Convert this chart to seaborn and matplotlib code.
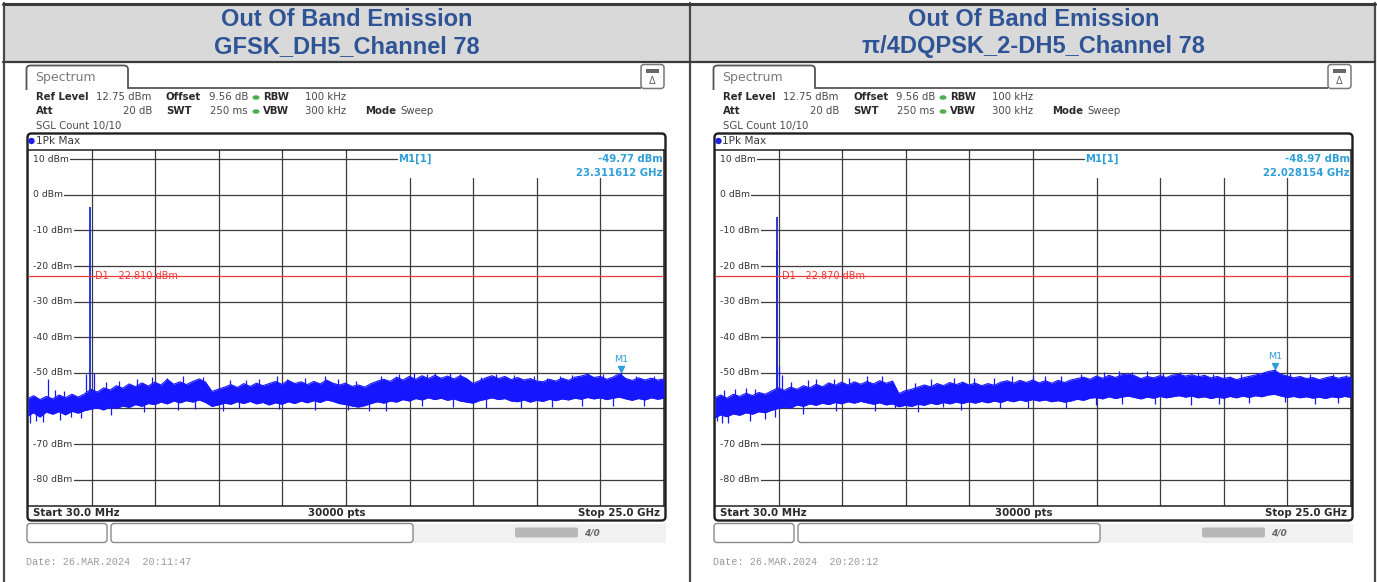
import matplotlib
matplotlib.use("Agg")
import matplotlib.pyplot as plt
import seaborn as sns
from matplotlib.patches import FancyBboxPatch, Rectangle, Ellipse, Circle, PathPatch
from matplotlib.path import Path

# ---------------- data ----------------
TITLE_TOP = "Out Of Band Emission"
TITLES = ["GFSK_DH5_Channel 78", "π/4DQPSK_2-DH5_Channel 78"]
DATES = ["Date: 26.MAR.2024  20:11:47", "Date: 26.MAR.2024  20:20:12"]
Y_TICKS = [10, 0, -10, -20, -30, -40, -50, -60, -70, -80]
REF_LEVEL = 12.75
START_GHZ = 0.03
STOP_GHZ = 25.0
D1_LEVEL = [-22.810, -22.870]
M1_FREQ = [23.311612, 22.028154]
M1_LEVEL = [-49.77, -48.97]

FREQ = [0.03, 0.25, 0.5, 0.75, 1.0, 1.25, 1.5, 1.75, 2.0, 2.25,
        2.5, 2.75, 3.0, 3.25, 3.5, 3.75, 4.0, 4.25, 4.5, 4.75,
        5.0, 5.25, 5.5, 5.75, 6.0, 6.25, 6.5, 6.75, 7.0, 7.25,
        7.5, 7.75, 8.0, 8.25, 8.5, 8.75, 9.0, 9.25, 9.5, 9.75,
        10.0, 10.25, 10.5, 10.75, 11.0, 11.25, 11.5, 11.75, 12.0, 12.25,
        12.5, 12.75, 13.0, 13.25, 13.5, 13.75, 14.0, 14.25, 14.5, 14.75,
        15.0, 15.25, 15.5, 15.75, 16.0, 16.25, 16.5, 16.75, 17.0, 17.25,
        17.5, 17.75, 18.0, 18.25, 18.5, 18.75, 19.0, 19.25, 19.5, 19.75,
        20.0, 20.25, 20.5, 20.75, 21.0, 21.25, 21.5, 21.75, 22.0, 22.25,
        22.5, 22.75, 23.0, 23.25, 23.5, 23.75, 24.0, 24.25, 24.5, 24.75, 25.0]

GFSK_UPPER = [-57.2, -56.4, -57.5, -56.6, -57.3, -56.2, -57.0, -56.0, -56.8, -55.9,
              -54.6, -55.4, -54.2, -54.8, -53.6, -54.3, -53.1, -53.9, -52.8, -53.7,
              -52.6, -53.4, -51.8, -53.2, -52.5, -53.3, -52.4, -51.7, -52.6, -55.2,
              -54.6, -54.0, -53.3, -54.1, -53.0, -53.8, -52.9, -53.6, -53.0, -52.4,
              -53.2, -52.1, -53.0, -52.5, -53.3, -52.4, -53.1, -52.0, -52.9, -53.4,
              -52.9, -53.8, -53.4, -54.0, -53.0, -52.3, -51.8, -52.4, -51.2, -52.0,
              -51.0, -51.8, -50.8, -51.6, -50.7, -51.5, -50.9, -51.7, -50.8, -51.6,
              -53.0, -52.2, -51.4, -50.8, -51.6, -51.0, -51.9, -51.3, -52.0, -51.6,
              -52.3, -52.5, -51.8, -52.3, -51.5, -52.1, -51.2, -50.9, -50.4, -51.3,
              -51.0, -51.8, -51.2, -50.2, -51.6, -52.1, -51.4, -52.0, -51.5, -52.0, -51.7]
GFSK_LOWER = [-62.0, -61.2, -62.4, -61.0, -61.6, -60.9, -61.8, -60.8, -61.3, -60.6,
              -60.2, -59.8, -60.4, -59.6, -60.0, -59.3, -59.7, -58.9, -59.4, -58.6,
              -58.9, -58.2, -58.7, -57.9, -58.4, -57.8, -58.2, -57.6, -58.3, -59.4,
              -59.0, -58.5, -58.8, -58.1, -58.6, -58.0, -58.7, -58.3, -59.0, -58.4,
              -58.8, -58.1, -58.6, -57.9, -58.4, -57.8, -58.3, -57.6, -58.0, -58.6,
              -58.9, -59.3, -59.6, -59.2, -58.6, -58.1, -58.5, -57.9, -58.2, -57.5,
              -57.9, -57.2, -57.6, -57.0, -57.5, -57.1, -57.7, -57.3, -57.9, -58.2,
              -58.5, -57.8, -57.4, -57.0, -57.5, -57.2, -57.9, -58.1, -57.6, -58.2,
              -57.7, -58.0, -57.4, -57.8, -57.3, -57.6, -57.1, -57.4, -56.9, -57.3,
              -57.0, -57.5, -57.1, -56.8, -57.3, -57.7, -57.2, -57.6, -57.0, -57.4, -57.1]

DQPSK_UPPER = [-57.0, -56.2, -57.1, -56.0, -56.6, -55.7, -56.4, -55.5, -56.0, -55.1,
               -54.2, -54.9, -54.0, -54.6, -53.6, -54.2, -53.2, -53.9, -52.8, -53.5,
               -52.6, -53.4, -52.5, -53.2, -52.4, -53.1, -52.2, -52.9, -52.3, -55.8,
               -55.0, -54.6, -54.0, -53.4, -53.9, -53.0, -53.6, -52.7, -53.3, -52.6,
               -53.4, -52.9, -53.6, -53.0, -53.5, -52.6, -52.2, -52.9, -52.1, -52.7,
               -52.0, -52.8, -52.2, -52.9, -52.1, -52.7, -52.0, -51.6, -51.2, -51.8,
               -50.9, -51.5, -50.7, -51.3, -50.5, -50.3, -50.8, -51.6, -51.0, -51.4,
               -50.8, -51.3, -50.6, -50.4, -50.9, -50.5, -51.1, -50.7, -51.4, -51.0,
               -51.6, -51.2, -51.9, -51.4, -51.0, -50.6, -50.2, -49.6, -49.3, -50.4,
               -50.9, -51.4, -51.0, -51.6, -51.3, -51.9, -51.4, -51.0, -51.5, -51.1, -51.3]
DQPSK_LOWER = [-62.6, -61.8, -62.3, -61.5, -61.9, -61.2, -61.6, -60.9, -61.2, -60.5,
               -60.0, -59.6, -59.9, -59.0, -59.4, -58.7, -59.1, -58.5, -58.9, -58.3,
               -58.7, -58.1, -58.5, -58.0, -58.4, -58.8, -58.4, -59.0, -58.7, -59.5,
               -59.1, -59.4, -58.8, -59.1, -58.5, -58.9, -58.3, -58.7, -58.2, -58.6,
               -58.1, -58.5, -58.0, -58.4, -57.9, -58.3, -57.7, -58.1, -57.6, -58.0,
               -57.5, -57.9, -57.6, -58.1, -57.8, -58.2, -57.9, -57.4, -57.7, -57.1,
               -56.9, -57.3, -56.7, -57.2, -56.8, -56.5, -56.9, -57.3, -56.8, -57.1,
               -56.6, -57.0, -56.7, -56.4, -56.8, -56.5, -57.0, -56.7, -57.2, -56.8,
               -57.1, -56.6, -57.0, -56.5, -56.9, -56.4, -56.7, -56.2, -56.0, -56.5,
               -56.9, -56.6, -57.0, -56.7, -57.1, -56.8, -57.2, -56.7, -57.0, -56.6, -56.9]

# noise spikes (freq GHz, bottom dBm, top dBm)
GFSK_SPK_F = [0.82, 2.30, 2.62, 3.6, 5.5, 6.9, 8.6, 10.2, 12.2, 14.6, 16.0, 17.0,
              18.4, 20.9, 22.0, 23.31, 0.10, 0.36, 1.7, 7.7, 11.3, 13.4,
              1.1, 1.45, 3.1, 4.3, 4.9, 6.1, 7.95, 9.1, 9.8, 10.9, 11.7, 12.9,
              13.9, 15.2, 15.7, 16.6, 17.8, 19.1, 19.9, 20.4, 21.4, 22.6, 23.9, 24.6,
              0.6, 1.3, 2.1, 3.3, 4.6, 5.9, 6.6, 8.3, 9.9, 12.6, 14.1, 15.5,
              16.7, 18.0, 19.4, 20.6, 21.8, 23.0, 24.2]
GFSK_SPK_LO = [-57, -56, -55, -55, -54, -54, -55, -54, -54, -53, -53, -53,
               -53, -54, -53, -53, -64.2, -63.6, -62.5, -60.6, -60.5, -60.8,
               -57, -57, -55, -54, -54, -53, -54, -54, -54, -54, -53, -54,
               -53, -52, -52, -52, -53, -53, -53, -53, -53, -52, -53, -53,
               -63.8, -63.2, -62.8, -61.8, -61.0, -60.4, -60.2, -60.0, -60.2, -60.3, -60.6, -59.4,
               -59.6, -59.8, -60.0, -59.5, -59.2, -59.4, -59.3]
GFSK_SPK_HI = [-51.7, -50.2, -50.0, -52.2, -51.4, -51.2, -52.0, -51.6, -51.8, -50.3, -50.1, -50.2,
               -50.2, -50.9, -50.0, -49.8, -60, -60, -60, -57, -57, -58,
               -54.8, -55.0, -52.6, -51.8, -51.2, -51.0, -51.9, -51.7, -51.0, -51.3, -50.9, -52.2,
               -51.0, -49.9, -50.2, -49.9, -51.2, -50.6, -51.0, -51.4, -50.6, -50.4, -50.9, -50.8,
               -61, -60, -60, -59, -58, -57, -57, -57, -57, -57, -57, -56,
               -56, -56, -56, -56, -56, -56, -56]
DQPSK_SPK_F = [0.4, 1.6, 2.56, 2.66, 4.0, 6.0, 8.5, 11.0, 13.0, 15.3, 16.4, 18.3,
               20.0, 22.03, 24.3, 0.10, 0.30, 2.40, 7.1, 9.0,
               0.8, 1.25, 3.0, 3.7, 4.7, 5.3, 6.6, 7.9, 9.4, 10.2, 11.7, 12.5,
               13.6, 14.4, 15.9, 17.0, 17.6, 19.0, 19.6, 20.7, 21.3, 22.6, 23.4, 24.8,
               0.55, 1.4, 2.0, 3.5, 4.8, 6.3, 8.0, 9.7, 11.2, 12.3, 13.8, 15.0,
               16.0, 17.3, 18.7, 19.8, 21.0, 22.4, 23.6, 24.5]
DQPSK_SPK_LO = [-58, -58, -56, -56, -55, -55, -55, -55, -55, -53, -53, -53,
                -53, -53, -53, -63.4, -64.2, -62.4, -60.0, -59.6,
                -58, -58, -56, -55, -55, -55, -55, -56, -55, -55, -54, -54,
                -54, -53, -52, -52, -52, -52, -52, -52, -52, -52, -52, -52,
                -64.0, -63.4, -63.0, -61.5, -60.8, -60.6, -61.0, -60.3, -60.0, -59.8, -60.0, -59.0,
                -58.8, -58.6, -58.9, -58.7, -58.5, -58.3, -58.6, -58.4]
DQPSK_SPK_HI = [-54.8, -54.6, -48.0, -50.5, -51.8, -51.0, -51.8, -51.4, -51.0, -49.8, -49.7, -49.8,
                -50.2, -48.97, -50.3, -60, -60, -58, -57, -57,
                -54.6, -54.2, -52.6, -52.0, -51.6, -51.3, -51.0, -52.8, -51.3, -51.5, -51.0, -50.9,
                -50.8, -50.4, -49.5, -49.6, -49.9, -50.0, -50.4, -50.3, -49.9, -49.9, -50.2, -50.5,
                -61, -60, -60, -58, -58, -58, -58, -57, -57, -57, -57, -56,
                -56, -56, -56, -56, -56, -55, -56, -56]

CARRIER_F = [[2.48], [2.48, 2.47]]
CARRIER_LO = [[-56.0], [-56.0, -56.0]]
CARRIER_HI = [[-3.4], [-6.3, -15.4]]

UPPERS = [GFSK_UPPER, DQPSK_UPPER]
LOWERS = [GFSK_LOWER, DQPSK_LOWER]
SPK = [(GFSK_SPK_F, GFSK_SPK_LO, GFSK_SPK_HI), (DQPSK_SPK_F, DQPSK_SPK_LO, DQPSK_SPK_HI)]

# ---------------- style ----------------
sns.set_theme(style="white")
plt.rcParams['font.family'] = ['DejaVu Sans']

W, H = 1377, 582
fig = plt.figure(figsize=(W / 100, H / 100), dpi=100)
bg = fig.add_axes([0, 0, 1, 1], zorder=0)
bg.set_xlim(0, W)
bg.set_ylim(H, 0)
bg.axis('off')

TRACE = '#1717ff'
CYAN = '#2f9fd8'
RED = '#f03a3a'
GRID = '#3c3c3c'
TXT = '#2a2a2a'
VAL = '#4a4a4a'

# table header
bg.add_patch(Rectangle((3.5, 4.5), 1371, 56.5, fc='#d9d9d9', ec='none'))
for x in (3.5, 689.5, 1374.5):
    bg.plot([x, x], [3, H], color='#4a4a4a', lw=1.6)
bg.plot([3, 1375], [3.5, 3.5], color='#3a3a3a', lw=2.2)
bg.plot([3, 1375], [61.5, 61.5], color='#3a3a3a', lw=1.6)

span = STOP_GHZ - START_GHZ
PX_PER_DB = 356 / 100.0


def panel(idx, ox):
    cx = ox + 346.5
    bg.text(cx, 19.5, TITLE_TOP, ha='center', va='center', fontsize=17, fontweight='bold',
            color='#2F5496', family='Liberation Sans')
    bg.text(cx, 46.5, TITLES[idx], ha='center', va='center', fontsize=17, fontweight='bold',
            color='#2F5496', family='Liberation Sans')

    # tab
    verts = [(ox + 26.5, 90), (ox + 26.5, 69), (ox + 26.5, 65.5), (ox + 30.5, 65.5),
             (ox + 124, 65.5), (ox + 128, 65.5), (ox + 128, 69.5), (ox + 128, 88), (ox + 641, 88)]
    codes = [Path.MOVETO, Path.LINETO, Path.CURVE3, Path.CURVE3, Path.LINETO,
             Path.CURVE3, Path.CURVE3, Path.LINETO, Path.LINETO]
    bg.add_patch(PathPatch(Path(verts, codes), fc='none', ec='#555555', lw=1.3))
    bg.text(ox + 35, 77.5, "Spectrum", fontsize=9, color='#7a7a7a', va='center')
    # icon
    bg.add_patch(FancyBboxPatch((ox + 641, 64.5), 23, 24, boxstyle="round,pad=0,rounding_size=3",
                                fc='white', ec='#777777', lw=1.1))
    bg.add_patch(Rectangle((ox + 646, 68.5), 13, 4, fc='#666666', ec='none'))
    bg.text(ox + 652.5, 81, "Δ", fontsize=7, color='#666666', ha='center', va='center')

    # info rows
    fs = 7.3
    r1, r2, r3 = 97.5, 111.5, 126.0
    bg.text(ox + 36, r1, "Ref Level", fontsize=fs, fontweight='bold', color=TXT, va='center')
    bg.text(ox + 96, r1, "12.75 dBm", fontsize=fs, color=VAL, va='center')
    bg.text(ox + 166, r1, "Offset", fontsize=fs, fontweight='bold', color=TXT, va='center')
    bg.text(ox + 209, r1, "9.56 dB", fontsize=fs, color=VAL, va='center')
    bg.text(ox + 263, r1, "RBW", fontsize=fs, fontweight='bold', color=TXT, va='center')
    bg.text(ox + 305, r1, "100 kHz", fontsize=fs, color=VAL, va='center')
    bg.text(ox + 36, r2, "Att", fontsize=fs, fontweight='bold', color=TXT, va='center')
    bg.text(ox + 152, r2, "20 dB", fontsize=fs, color=VAL, va='center', ha='right')
    bg.text(ox + 166, r2, "SWT", fontsize=fs, fontweight='bold', color=TXT, va='center')
    bg.text(ox + 248, r2, "250 ms", fontsize=fs, color=VAL, va='center', ha='right')
    bg.text(ox + 263, r2, "VBW", fontsize=fs, fontweight='bold', color=TXT, va='center')
    bg.text(ox + 305, r2, "300 kHz", fontsize=fs, color=VAL, va='center')
    bg.text(ox + 365, r2, "Mode", fontsize=fs, fontweight='bold', color=TXT, va='center')
    bg.text(ox + 400, r2, "Sweep", fontsize=fs, color=VAL, va='center')
    bg.text(ox + 36, r3, "SGL Count 10/10", fontsize=fs, color=VAL, va='center')
    for ry in (r1, r2):
        bg.add_patch(Ellipse((ox + 256, ry), 7, 4.5, fc='#4caf50', ec='none'))

    # diagram frame
    bg.add_patch(FancyBboxPatch((ox + 27.5, 133.5), 638, 387, boxstyle="round,pad=0,rounding_size=4",
                                fc='none', ec='#1e1e1e', lw=1.7))
    bg.add_patch(Circle((ox + 31.5, 141), 3.2, fc='#2020e0', ec='none'))
    bg.text(ox + 35.5, 141, "1Pk Max", fontsize=7.6, color='#3a3a3a', va='center')
    bg.text(ox + 33, 513, "Start 30.0 MHz", fontsize=7.4, fontweight='bold', color=TXT, va='center')
    bg.text(ox + 337, 513, "30000 pts", fontsize=7.4, fontweight='bold', color=TXT, va='center', ha='center')
    bg.text(ox + 660, 513, "Stop 25.0 GHz", fontsize=7.4, fontweight='bold', color=TXT, va='center', ha='right')

    # status bar
    bg.add_patch(Rectangle((ox + 413, 523.5), 253, 19, fc='#f1f1f1', ec='none'))
    bg.add_patch(FancyBboxPatch((ox + 27, 523.5), 80, 19, boxstyle="round,pad=0,rounding_size=3",
                                fc='white', ec='#8a8a8a', lw=1.0))
    bg.add_patch(FancyBboxPatch((ox + 111, 523.5), 302, 19, boxstyle="round,pad=0,rounding_size=3",
                                fc='white', ec='#8a8a8a', lw=1.0))
    bg.add_patch(FancyBboxPatch((ox + 515, 527.5), 63, 10, boxstyle="round,pad=0,rounding_size=2",
                                fc='#b8b8b8', ec='none'))
    bg.text(ox + 592, 532.5, "4/0", fontsize=6.5, fontweight='bold', style='italic', color='#6a6a6a',
            ha='center', va='center')
    bg.text(ox + 26, 562, DATES[idx], fontsize=7.3, color='#9a9a9a', va='center', family='Liberation Mono')

    # spectrum axes
    ax = fig.add_axes([(ox + 28) / W, (H - 505.5) / H, 636 / W, 356 / H], zorder=2)
    ax.set_facecolor('white')
    ax.set_xlim(START_GHZ, STOP_GHZ)
    ax.set_ylim(REF_LEVEL - 100, REF_LEVEL)
    ax.set_xticks([])
    ax.set_yticks([])
    for s in ax.spines.values():
        s.set_visible(True)
        s.set_color('#202020')
        s.set_linewidth(1.1)

    top_gap = REF_LEVEL - (178 - 149.5) / PX_PER_DB
    m1_text_x = START_GHZ + (397 - 28) / 636 * span
    for k in range(1, 10):
        xv = START_GHZ + k * span / 10
        ymax = REF_LEVEL if k <= 5 else top_gap
        ax.plot([xv, xv], [REF_LEVEL - 100, ymax], color=GRID, lw=0.9, zorder=1)
    lab_x = START_GHZ + 5 / 636 * span
    for v in Y_TICKS:
        xe = m1_text_x if v == 10 else STOP_GHZ
        ax.plot([lab_x + 0.3, xe], [v, v], color=GRID, lw=0.9, zorder=1)
        ax.text(lab_x, v, f"{v} dBm", fontsize=6.7, color='#333333', va='center', ha='left', zorder=1.5,
                bbox=dict(boxstyle='square,pad=0.15', fc='white', ec='none'))

    # D1 line
    ax.axhline(D1_LEVEL[idx], color=RED, lw=0.9, zorder=4)
    ax.text(START_GHZ + 67 / 636 * span, D1_LEVEL[idx], f"D1  {D1_LEVEL[idx]:.3f} dBm", fontsize=7.0,
            color=RED, va='center', ha='left', zorder=4)

    # trace
    f_, lo_, hi_ = SPK[idx]
    ax.fill_between(FREQ, LOWERS[idx], UPPERS[idx], color=TRACE, lw=0, zorder=3)
    sns.lineplot(x=FREQ, y=UPPERS[idx], ax=ax, color=TRACE, lw=0.8, zorder=3)
    sns.lineplot(x=FREQ, y=LOWERS[idx], ax=ax, color=TRACE, lw=0.8, zorder=3)
    ax.vlines(f_, lo_, hi_, color=TRACE, lw=0.9, zorder=3)
    ax.vlines(CARRIER_F[idx], CARRIER_LO[idx], CARRIER_HI[idx], color='#1c2bd6', lw=1.3, zorder=3)

    # marker
    ax.plot([M1_FREQ[idx]], [M1_LEVEL[idx] + 1.0], marker='v', ms=5, color=CYAN, zorder=5, lw=0)
    ax.text(M1_FREQ[idx], M1_LEVEL[idx] + 3.6, "M1", fontsize=6.8, color=CYAN, ha='center', va='center', zorder=5)
    ax.text(m1_text_x + 0.05, 10, "M1[1]", fontsize=7.3, fontweight='bold', color=CYAN, va='center', ha='left', zorder=5)
    ax.text(STOP_GHZ - 0.04, 10, f"{M1_LEVEL[idx]:.2f} dBm", fontsize=7.3, fontweight='bold', color=CYAN,
            va='center', ha='right', zorder=5)
    ax.text(STOP_GHZ - 0.04, REF_LEVEL - (172.7 - 149.5) / PX_PER_DB, f"{M1_FREQ[idx]:.6f} GHz", fontsize=7.3,
            fontweight='bold', color=CYAN, va='center', ha='right', zorder=5)
    if ax.get_legend():
        ax.get_legend().remove()


panel(0, 0)
panel(1, 687)

fig.savefig("out.png", dpi=100)
